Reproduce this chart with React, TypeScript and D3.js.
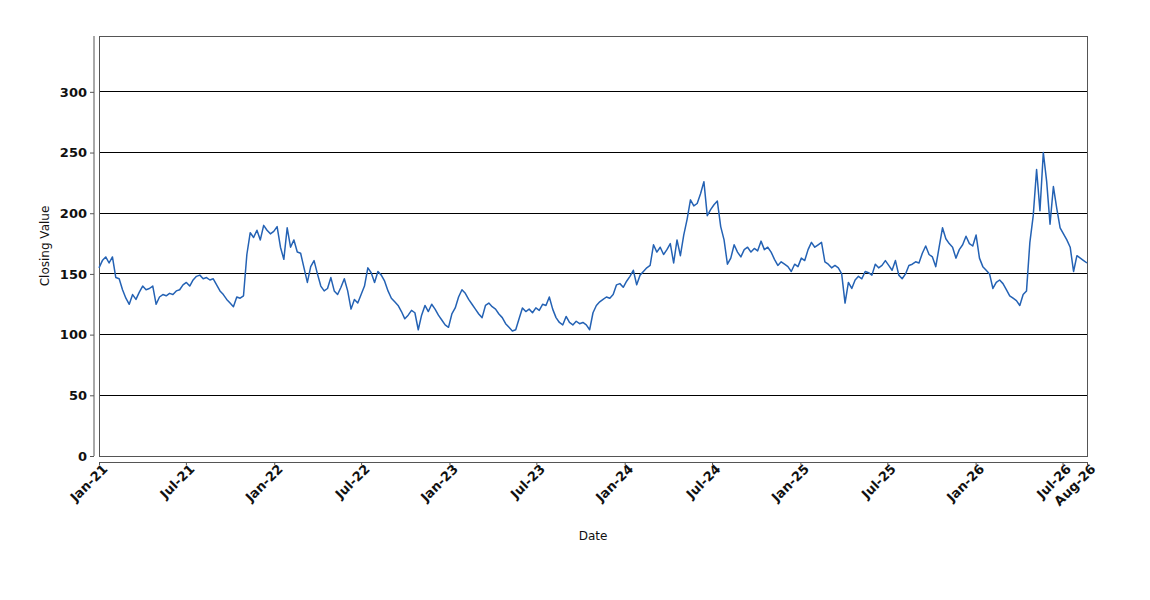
import { useRef, useEffect } from 'react';
import * as d3 from 'd3';

// weekly closing values, first point on 2021-01-01
const values2021 = [
  155, 161, 164, 159, 164, 147, 146, 137, 130, 125,
  133, 129, 135, 140, 137, 138, 140, 125, 131, 133,
  132, 134, 133, 136, 137, 141, 143, 140, 145, 148,
  149, 146, 147, 145, 146, 141, 136, 133, 129, 126,
  123, 131, 130, 132, 166, 184, 180, 186, 178, 190,
  186, 183, 185,
];
const values2022 = [
  189, 172, 162, 188, 172, 178, 168, 167, 155, 143,
  156, 161, 150, 140, 136, 138, 147, 136, 133, 139,
  146, 136, 121, 129, 126, 133, 140, 155, 151, 143,
  152, 149, 144, 136, 130, 127, 124, 119, 113, 116,
  120, 118, 104, 116, 124, 119, 125, 121, 116, 112,
  108, 106,
];
const values2023 = [
  117, 122, 131, 137, 134, 129, 125, 121, 117, 114,
  124, 126, 123, 121, 117, 114, 109, 106, 103, 104,
  113, 122, 119, 121, 118, 122, 120, 125, 124, 131,
  121, 114, 110, 108, 115, 110, 108, 111, 109, 110,
  108, 104, 118, 124, 127, 129, 131, 130, 133, 141,
  142, 139,
];
const values2024 = [
  144, 148, 153, 141, 149, 152, 155, 157, 174, 168,
  172, 166, 170, 175, 159, 178, 165, 182, 195, 211,
  206, 208, 216, 226, 198, 203, 207, 210, 189, 178,
  158, 163, 174, 168, 164, 170, 172, 168, 171, 169,
  177, 170, 172, 168, 162, 157, 160, 158, 156, 152,
  158, 156,
];
const values2025 = [
  163, 161, 170, 176, 172, 174, 176, 160, 158, 155,
  157, 155, 150, 126, 143, 138, 145, 148, 146, 152,
  151, 149, 158, 155, 157, 161, 157, 153, 161, 149,
  146, 150, 157, 158, 160, 159, 167, 173, 166, 164,
  156, 172, 188, 179, 175, 172, 163, 170, 174, 181,
  175, 173,
];
const values2026 = [
  182, 163, 156, 153, 150, 138, 143, 145, 142, 137,
  132, 130, 128, 124, 133, 136, 176, 198, 236, 202,
  250, 226, 191, 222, 204, 188, 183, 178, 172, 152,
  165, 163, 161, 159,
];

const closing = [...values2021, ...values2022, ...values2023, ...values2024, ...values2025, ...values2026];
const startDate = new Date(2021, 0, 1);
const dates = closing.map((_, i) => d3.timeDay.offset(startDate, i * 7));

const yTicks = [0, 50, 100, 150, 200, 250, 300];
const gridValues = [50, 100, 150, 200, 250, 300];
const tickDates = [
  new Date(2021, 0, 1), new Date(2021, 6, 1),
  new Date(2022, 0, 1), new Date(2022, 6, 1),
  new Date(2023, 0, 1), new Date(2023, 6, 1),
  new Date(2024, 0, 1), new Date(2024, 6, 1),
  new Date(2025, 0, 1), new Date(2025, 6, 1),
  new Date(2026, 0, 1), new Date(2026, 6, 1),
];

export default function App() {
  const svgRef = useRef<SVGSVGElement>(null);

  useEffect(() => {
    if (!svgRef.current) return;
    const svg = d3.select(svgRef.current);
    svg.selectAll('*').remove();

    const left = 99, right = 1087, top = 36, bottom = 456;
    const font = 'DejaVu Sans, sans-serif';

    const x = d3.scaleTime()
      .domain(d3.extent(dates) as [Date, Date])
      .range([left, right]);
    const y = d3.scaleLinear().domain([0, 346]).range([bottom, top]);

    // grid
    svg.append('g')
      .selectAll('line')
      .data(gridValues)
      .join('line')
      .attr('x1', left)
      .attr('x2', right)
      .attr('y1', (d) => y(d))
      .attr('y2', (d) => y(d))
      .attr('stroke', '#000')
      .attr('stroke-width', 1)
      .attr('shape-rendering', 'crispEdges');

    // plot frame
    svg.append('rect')
      .attr('x', left)
      .attr('y', top)
      .attr('width', right - left)
      .attr('height', bottom - top)
      .attr('fill', 'none')
      .attr('stroke', '#555')
      .attr('shape-rendering', 'crispEdges');

    // the series
    const line = d3.line<number>()
      .x((_, i) => x(dates[i]))
      .y((d) => y(d));
    svg.append('path')
      .datum(closing)
      .attr('d', line)
      .attr('fill', 'none')
      .attr('stroke', '#2462b4')
      .attr('stroke-width', 1.5)
      .attr('stroke-linejoin', 'round');

    // y axis, offset left of the frame
    const yAxis = svg.append('g')
      .attr('transform', 'translate(94,0)')
      .call(d3.axisLeft(y).tickValues(yTicks).tickSize(4).tickPadding(3).tickSizeOuter(0));
    yAxis.select('.domain').attr('stroke', '#555').attr('d', `M0,${top}V${bottom}`);
    yAxis.selectAll('line').attr('stroke', '#555');
    yAxis.selectAll('text')
      .attr('font-family', font)
      .attr('font-size', 13)
      .attr('font-weight', 'bold')
      .attr('fill', '#111');

    // x axis, offset below the frame
    const xTickValues = [...tickDates, dates[dates.length - 1]];
    const xAxis = svg.append('g')
      .attr('transform', 'translate(0,462)')
      .call(
        d3.axisBottom(x)
          .tickValues(xTickValues)
          .tickSize(3)
          .tickSizeOuter(0)
          .tickFormat((d, i) => (i === xTickValues.length - 1 ? 'Aug-26' : d3.timeFormat('%b-%y')(d as Date)))
      );
    xAxis.select('.domain').attr('stroke', '#555');
    xAxis.selectAll('line').attr('stroke', '#555');
    xAxis.selectAll('text')
      .attr('font-family', font)
      .attr('font-size', 13)
      .attr('font-weight', 'bold')
      .attr('fill', '#111')
      .attr('text-anchor', 'end')
      .attr('dy', 0)
      .attr('transform', 'translate(4,0) rotate(-45)')
      .attr('y', 9)
      .attr('x', -2);

    // axis titles
    svg.append('text')
      .attr('x', (left + right) / 2)
      .attr('y', 540)
      .attr('text-anchor', 'middle')
      .attr('font-family', font)
      .attr('font-size', 12)
      .attr('fill', '#111')
      .text('Date');
    svg.append('text')
      .attr('transform', `translate(49,${(top + bottom) / 2}) rotate(-90)`)
      .attr('text-anchor', 'middle')
      .attr('font-family', font)
      .attr('font-size', 12)
      .attr('fill', '#111')
      .text('Closing Value');
  }, []);

  return (
    <svg
      ref={svgRef}
      width={1150}
      height={600}
      style={{ position: 'absolute', left: 0, top: 0, background: '#fff' }}
    />
  );
}
